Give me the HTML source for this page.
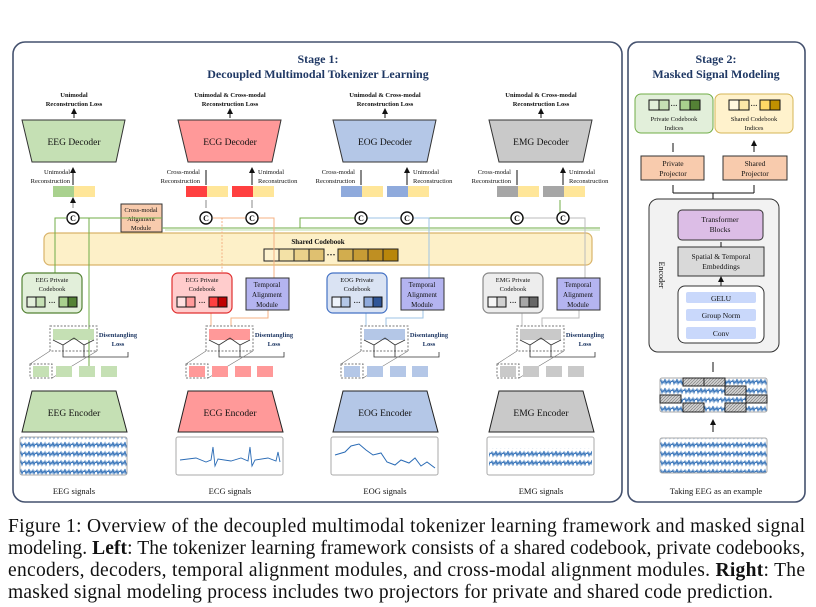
<!DOCTYPE html>
<html><head><meta charset="utf-8"><style>
html,body{margin:0;padding:0;background:#fff}
svg{display:block}
text{font-family:"Liberation Serif",serif;fill:#111}
.b{font-weight:bold}
</style></head><body>
<svg width="816" height="607" viewBox="0 0 816 607" xmlns="http://www.w3.org/2000/svg">
<defs>
<pattern id="eeg" width="12" height="9" patternUnits="userSpaceOnUse">
<path d="M0 4 L1 2 L2 6 L3 3 L4 5 L5 1 L6 6 L7 3 L8 5 L9 2 L10 6 L11 3 L12 4" stroke="#2a6bb5" stroke-width="0.9" fill="none"/>
</pattern>
<pattern id="hatch" width="3" height="3" patternUnits="userSpaceOnUse">
<rect width="3" height="3" fill="#cfcfcf"/><path d="M0 3L3 0" stroke="#777" stroke-width="0.6"/>
</pattern>
<marker id="ar" markerWidth="6" markerHeight="6" refX="3" refY="3" orient="auto"><path d="M0 0L6 3L0 6z" fill="#111"/></marker>
</defs>

<!-- panels -->
<rect x="13" y="42" width="609" height="460" rx="12" fill="#fff" stroke="#44516e" stroke-width="1.6"/>
<rect x="628" y="42" width="177" height="460" rx="10" fill="#fff" stroke="#44516e" stroke-width="1.6"/>

<text x="318" y="63" text-anchor="middle" class="b" font-size="12" style="fill:#1f3864">Stage 1:</text>
<text x="318" y="78" text-anchor="middle" class="b" font-size="12" style="fill:#1f3864">Decoupled Multimodal Tokenizer Learning</text>

<!-- shared codebook -->
<rect x="44" y="233" width="548" height="32" rx="6" fill="#fdf0c8" stroke="#d9b36a" stroke-width="1.2"/>
<text x="318" y="244" text-anchor="middle" class="b" font-size="7">Shared Codebook</text>
<g stroke="#222" stroke-width="1">
<rect x="264" y="249" width="15" height="12" fill="#fdf3d0"/><rect x="279" y="249" width="15" height="12" fill="#f3e1a6"/><rect x="294" y="249" width="15" height="12" fill="#ead18a"/><rect x="309" y="249" width="15" height="12" fill="#dfc070"/>
<rect x="338" y="249" width="15" height="12" fill="#d2ad4e"/><rect x="353" y="249" width="15" height="12" fill="#c79c35"/><rect x="368" y="249" width="15" height="12" fill="#bf8f22"/><rect x="383" y="249" width="15" height="12" fill="#b8860b"/>
</g>
<text x="331" y="258" text-anchor="middle" class="b" font-size="9">···</text>

<!-- cross-modal alignment module -->
<rect x="121" y="204" width="41" height="28" fill="#f8cbad" stroke="#333"/>
<text x="141" y="212" text-anchor="middle" font-size="6.5">Cross-modal</text>
<text x="141" y="221" text-anchor="middle" font-size="6.5">Alignment</text>
<text x="141" y="230" text-anchor="middle" font-size="6.5">Module</text>
<path d="M162 228 L600 228 M162 218 L78 218 M300 228 L300 218 L560 218 L560 200" stroke="#70ad47" stroke-width="1" fill="none"/>
<path d="M165 230 L600 230" stroke="#a9d18e" stroke-width="0.8" fill="none"/>

<g id="colEEG">
<text x="74" y="97" text-anchor="middle" class="b" font-size="6.5">Unimodal</text>
<text x="74" y="106" text-anchor="middle" class="b" font-size="6.5">Reconstruction Loss</text>
<path d="M74 118 V111" stroke="#111" marker-end="url(#ar)"/>
<polygon points="22,120 125,120 116,162 32,162" fill="#c5e0b4" stroke="#333"/>
<text x="74" y="145" text-anchor="middle" font-size="9.5">EEG Decoder</text>
<text x="70" y="174" text-anchor="end" font-size="6.5">Unimodal</text>
<text x="70" y="183" text-anchor="end" font-size="6.5">Reconstruction</text>
<path d="M73 185 V170" stroke="#111" marker-end="url(#ar)"/>
<rect x="53" y="186" width="21" height="11" fill="#a9d18e"/><rect x="74" y="186" width="21" height="11" fill="#ffe699"/>
<path d="M73 208 V200" stroke="#888" marker-end="url(#ar)"/>
<circle cx="73" cy="218" r="6" fill="#fff" stroke="#111" stroke-width="1.4"/><text x="73" y="221" text-anchor="middle" class="b" font-size="8">C</text>
<path d="M55 313 V218 H66 M89 370 V218 H80" stroke="#70ad47" fill="none"/>
<rect x="22" y="273" width="60" height="40" rx="6" fill="#e2efda" stroke="#548235" stroke-width="1.2"/>
<text x="52" y="282" text-anchor="middle" font-size="6.5">EEG Private</text>
<text x="52" y="291" text-anchor="middle" font-size="6.5">Codebook</text>
<g stroke="#111"><rect x="27" y="297" width="9" height="10" fill="#e2efda"/><rect x="36" y="297" width="9" height="10" fill="#c5e0b4"/><rect x="59" y="297" width="9" height="10" fill="#a9d18e"/><rect x="68" y="297" width="9" height="10" fill="#548235"/></g>
<text x="52" y="305" text-anchor="middle" class="b" font-size="7">···</text>
<rect x="50" y="326" width="47" height="25" fill="none" stroke="#777" stroke-dasharray="2,1.5"/>
<rect x="53" y="329" width="41" height="11" fill="#c5e0b4"/>
<path d="M53 340 L63 345 L74 338 L84 345 L94 340 M63 345 V357 H128 V352 M84 345 V357" stroke="#333" fill="none" stroke-width="0.8"/>
<text x="118" y="337" text-anchor="middle" class="b" font-size="6.5" style="fill:#1f3864">Disentangling</text>
<text x="118" y="346" text-anchor="middle" class="b" font-size="6.5" style="fill:#1f3864">Loss</text>
<rect x="30" y="364" width="22" height="14" fill="none" stroke="#777" stroke-dasharray="2,1.5"/>
<path d="M30 364 L50 351 M52 378 L97 351" stroke="#777" stroke-width="0.6"/>
<rect x="33" y="366" width="16" height="11" fill="#c5e0b4"/><rect x="56" y="366" width="16" height="11" fill="#c5e0b4"/><rect x="79" y="366" width="16" height="11" fill="#c5e0b4"/><rect x="101" y="366" width="16" height="11" fill="#c5e0b4"/>
<polygon points="32,391 116,391 127,432 22,432" fill="#c5e0b4" stroke="#222"/>
<text x="74" y="416" text-anchor="middle" font-size="9.5">EEG Encoder</text>
<rect x="20" y="437" width="107" height="38" rx="2" fill="url(#eeg)" stroke="#aaa"/>
<text x="74" y="494" text-anchor="middle" font-size="8.5">EEG signals</text>
</g>

<g transform="translate(156,0)">
<text x="74" y="97" text-anchor="middle" class="b" font-size="6.5">Unimodal &amp; Cross-modal</text>
<text x="74" y="106" text-anchor="middle" class="b" font-size="6.5">Reconstruction Loss</text>
<path d="M74 118 V111" stroke="#111" marker-end="url(#ar)"/>
<polygon points="22,120 125,120 116,162 32,162" fill="#ff9999" stroke="#333"/>
<text x="74" y="145" text-anchor="middle" font-size="9.5">ECG Decoder</text>
<text x="44" y="174" text-anchor="end" font-size="6.5">Cross-modal</text>
<text x="44" y="183" text-anchor="end" font-size="6.5">Reconstruction</text>
<text x="102" y="174" font-size="6.5">Unimodal</text>
<text x="102" y="183" font-size="6.5">Reconstruction</text>
<path d="M50 185 V170 M96 185 V170" stroke="#111" marker-end="url(#ar)"/>
<rect x="30" y="186" width="21" height="11" fill="#ff4040"/><rect x="51" y="186" width="21" height="11" fill="#ffe699"/>
<rect x="76" y="186" width="21" height="11" fill="#ff4040"/><rect x="97" y="186" width="21" height="11" fill="#ffe699"/>
<path d="M50 208 V200 M96 208 V200" stroke="#888"/>
<path d="M57 218 H118 V278 M103 218 H118" stroke="#f4b183" fill="none"/>
<path d="M66 272 V218" stroke="#f4b183" stroke-dasharray="2,1.5" fill="none"/>
<circle cx="50" cy="218" r="6" fill="#fff" stroke="#111" stroke-width="1.4"/><text x="50" y="221" text-anchor="middle" class="b" font-size="8">C</text>
<circle cx="96" cy="218" r="6" fill="#fff" stroke="#111" stroke-width="1.4"/><text x="96" y="221" text-anchor="middle" class="b" font-size="8">C</text>
<path d="M55 313 V326 M75 326 V318 H112 V310" stroke="#f4b183" fill="none"/>
<rect x="16" y="273" width="60" height="40" rx="6" fill="#ffcccc" stroke="#e03030" stroke-width="1.2"/>
<text x="46" y="282" text-anchor="middle" font-size="6.5">ECG Private</text>
<text x="46" y="291" text-anchor="middle" font-size="6.5">Codebook</text>
<g stroke="#111"><rect x="21" y="297" width="9" height="10" fill="#ffe0e0"/><rect x="30" y="297" width="9" height="10" fill="#ff9999"/><rect x="53" y="297" width="9" height="10" fill="#ff4040"/><rect x="62" y="297" width="9" height="10" fill="#c00000"/></g>
<text x="46" y="305" text-anchor="middle" class="b" font-size="7">···</text>
<rect x="90" y="278" width="43" height="32" fill="#b4b4f0" stroke="#333"/>
<text x="111" y="287" text-anchor="middle" font-size="7">Temporal</text>
<text x="111" y="297" text-anchor="middle" font-size="7">Alignment</text>
<text x="111" y="307" text-anchor="middle" font-size="7">Module</text>
<rect x="50" y="326" width="47" height="25" fill="none" stroke="#777" stroke-dasharray="2,1.5"/>
<rect x="53" y="329" width="41" height="11" fill="#ff9999"/>
<path d="M53 340 L63 345 L74 338 L84 345 L94 340 M63 345 V357 H128 V352 M84 345 V357" stroke="#333" fill="none" stroke-width="0.8"/>
<text x="118" y="337" text-anchor="middle" class="b" font-size="6.5" style="fill:#1f3864">Disentangling</text>
<text x="118" y="346" text-anchor="middle" class="b" font-size="6.5" style="fill:#1f3864">Loss</text>
<rect x="30" y="364" width="22" height="14" fill="none" stroke="#777" stroke-dasharray="2,1.5"/>
<path d="M30 364 L50 351 M52 378 L97 351" stroke="#777" stroke-width="0.6"/>
<rect x="33" y="366" width="16" height="11" fill="#ff9999"/><rect x="56" y="366" width="16" height="11" fill="#ff9999"/><rect x="79" y="366" width="16" height="11" fill="#ff9999"/><rect x="101" y="366" width="16" height="11" fill="#ff9999"/>
<polygon points="32,391 116,391 127,432 22,432" fill="#ff9999" stroke="#222"/>
<text x="74" y="416" text-anchor="middle" font-size="9.5">ECG Encoder</text>
<rect x="20" y="437" width="107" height="38" rx="2" fill="#fff" stroke="#aaa"/>
<path d="M24 460 L40 458 L50 462 L55 460 L57 447 L59 466 L62 459 L75 461 L85 458 L92 461 L94 447 L96 466 L99 460 L112 458 L120 461 L122 452 L124 462" stroke="#2a6bb5" fill="none" stroke-width="0.9"/>
<text x="74" y="494" text-anchor="middle" font-size="8.5">ECG signals</text>
</g>

<g transform="translate(311,0)">
<text x="74" y="97" text-anchor="middle" class="b" font-size="6.5">Unimodal &amp; Cross-modal</text>
<text x="74" y="106" text-anchor="middle" class="b" font-size="6.5">Reconstruction Loss</text>
<path d="M74 118 V111" stroke="#111" marker-end="url(#ar)"/>
<polygon points="22,120 125,120 116,162 32,162" fill="#b4c7e7" stroke="#333"/>
<text x="74" y="145" text-anchor="middle" font-size="9.5">EOG Decoder</text>
<text x="44" y="174" text-anchor="end" font-size="6.5">Cross-modal</text>
<text x="44" y="183" text-anchor="end" font-size="6.5">Reconstruction</text>
<text x="102" y="174" font-size="6.5">Unimodal</text>
<text x="102" y="183" font-size="6.5">Reconstruction</text>
<path d="M50 185 V170 M96 185 V170" stroke="#111" marker-end="url(#ar)"/>
<rect x="30" y="186" width="21" height="11" fill="#8faadc"/><rect x="51" y="186" width="21" height="11" fill="#ffe699"/>
<rect x="76" y="186" width="21" height="11" fill="#8faadc"/><rect x="97" y="186" width="21" height="11" fill="#ffe699"/>
<path d="M57 218 H118 V278 M103 218 H118" stroke="#9dc3e6" fill="none"/>
<circle cx="50" cy="218" r="6" fill="#fff" stroke="#111" stroke-width="1.4"/><text x="50" y="221" text-anchor="middle" class="b" font-size="8">C</text>
<circle cx="96" cy="218" r="6" fill="#fff" stroke="#111" stroke-width="1.4"/><text x="96" y="221" text-anchor="middle" class="b" font-size="8">C</text>
<path d="M55 313 V326 M75 326 V318 H112 V310" stroke="#9dc3e6" fill="none"/>
<rect x="16" y="273" width="60" height="40" rx="6" fill="#dae3f3" stroke="#4472c4" stroke-width="1.2"/>
<text x="46" y="282" text-anchor="middle" font-size="6.5">EOG Private</text>
<text x="46" y="291" text-anchor="middle" font-size="6.5">Codebook</text>
<g stroke="#111"><rect x="21" y="297" width="9" height="10" fill="#eef3fb"/><rect x="30" y="297" width="9" height="10" fill="#b4c7e7"/><rect x="53" y="297" width="9" height="10" fill="#8faadc"/><rect x="62" y="297" width="9" height="10" fill="#2f5597"/></g>
<text x="46" y="305" text-anchor="middle" class="b" font-size="7">···</text>
<rect x="90" y="278" width="43" height="32" fill="#b4b4f0" stroke="#333"/>
<text x="111" y="287" text-anchor="middle" font-size="7">Temporal</text>
<text x="111" y="297" text-anchor="middle" font-size="7">Alignment</text>
<text x="111" y="307" text-anchor="middle" font-size="7">Module</text>
<rect x="50" y="326" width="47" height="25" fill="none" stroke="#777" stroke-dasharray="2,1.5"/>
<rect x="53" y="329" width="41" height="11" fill="#b4c7e7"/>
<path d="M53 340 L63 345 L74 338 L84 345 L94 340 M63 345 V357 H128 V352 M84 345 V357" stroke="#333" fill="none" stroke-width="0.8"/>
<text x="118" y="337" text-anchor="middle" class="b" font-size="6.5" style="fill:#1f3864">Disentangling</text>
<text x="118" y="346" text-anchor="middle" class="b" font-size="6.5" style="fill:#1f3864">Loss</text>
<rect x="30" y="364" width="22" height="14" fill="none" stroke="#777" stroke-dasharray="2,1.5"/>
<path d="M30 364 L50 351 M52 378 L97 351" stroke="#777" stroke-width="0.6"/>
<rect x="33" y="366" width="16" height="11" fill="#b4c7e7"/><rect x="56" y="366" width="16" height="11" fill="#b4c7e7"/><rect x="79" y="366" width="16" height="11" fill="#b4c7e7"/><rect x="101" y="366" width="16" height="11" fill="#b4c7e7"/>
<polygon points="32,391 116,391 127,432 22,432" fill="#b4c7e7" stroke="#222"/>
<text x="74" y="416" text-anchor="middle" font-size="9.5">EOG Encoder</text>
<rect x="20" y="437" width="107" height="38" rx="2" fill="#fff" stroke="#aaa"/>
<path d="M24 455 L34 452 L40 446 L48 444 L55 450 L62 455 L70 453 L76 462 L84 465 L90 460 L98 463 L104 458 L110 466 L116 462 L124 468" stroke="#2a6bb5" fill="none" stroke-width="1"/>
<text x="74" y="494" text-anchor="middle" font-size="8.5">EOG signals</text>
</g>

<g transform="translate(467,0)">
<text x="74" y="97" text-anchor="middle" class="b" font-size="6.5">Unimodal &amp; Cross-modal</text>
<text x="74" y="106" text-anchor="middle" class="b" font-size="6.5">Reconstruction Loss</text>
<path d="M74 118 V111" stroke="#111" marker-end="url(#ar)"/>
<polygon points="22,120 125,120 116,162 32,162" fill="#c9c9c9" stroke="#333"/>
<text x="74" y="145" text-anchor="middle" font-size="9.5">EMG Decoder</text>
<text x="44" y="174" text-anchor="end" font-size="6.5">Cross-modal</text>
<text x="44" y="183" text-anchor="end" font-size="6.5">Reconstruction</text>
<text x="102" y="174" font-size="6.5">Unimodal</text>
<text x="102" y="183" font-size="6.5">Reconstruction</text>
<path d="M50 185 V170 M96 185 V170" stroke="#111" marker-end="url(#ar)"/>
<rect x="30" y="186" width="21" height="11" fill="#a6a6a6"/><rect x="51" y="186" width="21" height="11" fill="#ffe699"/>
<rect x="76" y="186" width="21" height="11" fill="#a6a6a6"/><rect x="97" y="186" width="21" height="11" fill="#ffe699"/>
<path d="M57 218 H118 V278 M103 218 H118" stroke="#bbb" fill="none"/>
<circle cx="50" cy="218" r="6" fill="#fff" stroke="#111" stroke-width="1.4"/><text x="50" y="221" text-anchor="middle" class="b" font-size="8">C</text>
<circle cx="96" cy="218" r="6" fill="#fff" stroke="#111" stroke-width="1.4"/><text x="96" y="221" text-anchor="middle" class="b" font-size="8">C</text>
<path d="M55 313 V326 M75 326 V318 H112 V310" stroke="#bbb" fill="none"/>
<rect x="16" y="273" width="60" height="40" rx="6" fill="#ededed" stroke="#888" stroke-width="1.2"/>
<text x="46" y="282" text-anchor="middle" font-size="6.5">EMG Private</text>
<text x="46" y="291" text-anchor="middle" font-size="6.5">Codebook</text>
<g stroke="#111"><rect x="21" y="297" width="9" height="10" fill="#f5f5f5"/><rect x="30" y="297" width="9" height="10" fill="#d0d0d0"/><rect x="53" y="297" width="9" height="10" fill="#a6a6a6"/><rect x="62" y="297" width="9" height="10" fill="#666"/></g>
<text x="46" y="305" text-anchor="middle" class="b" font-size="7">···</text>
<rect x="90" y="278" width="43" height="32" fill="#b4b4f0" stroke="#333"/>
<text x="111" y="287" text-anchor="middle" font-size="7">Temporal</text>
<text x="111" y="297" text-anchor="middle" font-size="7">Alignment</text>
<text x="111" y="307" text-anchor="middle" font-size="7">Module</text>
<rect x="50" y="326" width="47" height="25" fill="none" stroke="#777" stroke-dasharray="2,1.5"/>
<rect x="53" y="329" width="41" height="11" fill="#c9c9c9"/>
<path d="M53 340 L63 345 L74 338 L84 345 L94 340 M63 345 V357 H128 V352 M84 345 V357" stroke="#333" fill="none" stroke-width="0.8"/>
<text x="118" y="337" text-anchor="middle" class="b" font-size="6.5" style="fill:#1f3864">Disentangling</text>
<text x="118" y="346" text-anchor="middle" class="b" font-size="6.5" style="fill:#1f3864">Loss</text>
<rect x="30" y="364" width="22" height="14" fill="none" stroke="#777" stroke-dasharray="2,1.5"/>
<path d="M30 364 L50 351 M52 378 L97 351" stroke="#777" stroke-width="0.6"/>
<rect x="33" y="366" width="16" height="11" fill="#c9c9c9"/><rect x="56" y="366" width="16" height="11" fill="#c9c9c9"/><rect x="79" y="366" width="16" height="11" fill="#c9c9c9"/><rect x="101" y="366" width="16" height="11" fill="#c9c9c9"/>
<polygon points="32,391 116,391 127,432 22,432" fill="#c9c9c9" stroke="#222"/>
<text x="74" y="416" text-anchor="middle" font-size="9.5">EMG Encoder</text>
<rect x="20" y="437" width="107" height="38" rx="2" fill="#fff" stroke="#aaa"/>
<rect x="22" y="448" width="103" height="18" fill="url(#eeg)"/>
<text x="74" y="494" text-anchor="middle" font-size="8.5">EMG signals</text>
</g>

<!-- Stage 2 -->
<text x="716" y="63" text-anchor="middle" class="b" font-size="12" style="fill:#1f3864">Stage 2:</text>
<text x="716" y="78" text-anchor="middle" class="b" font-size="12" style="fill:#1f3864">Masked Signal Modeling</text>
<rect x="635" y="94" width="78" height="39" rx="6" fill="#e2efda" stroke="#70ad47"/>
<g stroke="#111"><rect x="649" y="100" width="10" height="10" fill="#e2efda"/><rect x="659" y="100" width="10" height="10" fill="#c5e0b4"/><rect x="680" y="100" width="10" height="10" fill="#a9d18e"/><rect x="690" y="100" width="10" height="10" fill="#548235"/></g>
<text x="674" y="108" text-anchor="middle" class="b" font-size="7">···</text>
<text x="674" y="121" text-anchor="middle" font-size="6.5">Private Codebook</text>
<text x="674" y="130" text-anchor="middle" font-size="6.5">Indices</text>
<rect x="715" y="94" width="78" height="39" rx="6" fill="#fff2cc" stroke="#d6b656"/>
<g stroke="#111"><rect x="729" y="100" width="10" height="10" fill="#fff8e0"/><rect x="739" y="100" width="10" height="10" fill="#fde9a8"/><rect x="760" y="100" width="10" height="10" fill="#ffd966"/><rect x="770" y="100" width="10" height="10" fill="#bf9000"/></g>
<text x="754" y="108" text-anchor="middle" class="b" font-size="7">···</text>
<text x="754" y="121" text-anchor="middle" font-size="6.5">Shared Codebook</text>
<text x="754" y="130" text-anchor="middle" font-size="6.5">Indices</text>
<path d="M673 152 V143 M754 152 V143" stroke="#111" marker-end="url(#ar)"/>
<rect x="641" y="156" width="63" height="24" fill="#f8cbad" stroke="#333"/>
<text x="673" y="166" text-anchor="middle" font-size="7.5">Private</text>
<text x="673" y="176" text-anchor="middle" font-size="7.5">Projector</text>
<rect x="723" y="156" width="64" height="24" fill="#f8cbad" stroke="#333"/>
<text x="755" y="166" text-anchor="middle" font-size="7.5">Shared</text>
<text x="755" y="176" text-anchor="middle" font-size="7.5">Projector</text>
<path d="M713 199 V193 M673 193 H754 M673 193 V185 M754 193 V185" stroke="#111" fill="none"/>
<rect x="649" y="199" width="130" height="153" rx="9" fill="#f2f2f2" stroke="#333"/>
<text transform="translate(659,275) rotate(90)" text-anchor="middle" font-size="8">Encoder</text>
<rect x="678" y="210" width="85" height="30" rx="4" fill="#dcbde6" stroke="#333"/>
<text x="720" y="222" text-anchor="middle" font-size="7.5">Transformer</text>
<text x="720" y="232" text-anchor="middle" font-size="7.5">Blocks</text>
<rect x="678" y="247" width="86" height="29" fill="#d9d9d9" stroke="#333"/>
<text x="721" y="259" text-anchor="middle" font-size="7.5">Spatial &amp; Temporal</text>
<text x="721" y="269" text-anchor="middle" font-size="7.5">Embeddings</text>
<path d="M721 247 V242 M721 286 V279" stroke="#111" marker-end="url(#ar)"/>
<rect x="678" y="286" width="86" height="57" rx="7" fill="#fff" stroke="#333"/>
<rect x="686" y="292" width="70" height="11" rx="2" fill="#c9d8fb"/><text x="721" y="301" text-anchor="middle" font-size="7.5">GELU</text>
<rect x="686" y="309" width="70" height="12" rx="2" fill="#c9d8fb"/><text x="721" y="318" text-anchor="middle" font-size="7.5">Group Norm</text>
<rect x="686" y="327" width="70" height="12" rx="2" fill="#c9d8fb"/><text x="721" y="336" text-anchor="middle" font-size="7.5">Conv</text>
<path d="M713 372 V362 M713 432 V422" stroke="#111" marker-end="url(#ar)"/>
<rect x="660" y="378" width="107" height="34" rx="2" fill="url(#eeg)" stroke="#aaa"/>
<g stroke="#222" fill="url(#hatch)">
<rect x="683" y="378" width="21" height="8"/><rect x="704" y="378" width="21" height="8"/>
<rect x="725" y="386" width="21" height="9"/>
<rect x="660" y="395" width="21" height="8"/><rect x="746" y="395" width="21" height="8"/>
<rect x="683" y="403" width="21" height="9"/><rect x="725" y="403" width="21" height="9"/>
</g>
<rect x="660" y="438" width="107" height="35" rx="2" fill="url(#eeg)" stroke="#aaa"/>
<text x="716" y="494" text-anchor="middle" font-size="8.5">Taking EEG as an example</text>

<!-- caption -->
<g font-size="19.5">
<text x="8" y="532" textLength="797" lengthAdjust="spacing">Figure 1:  Overview of the decoupled multimodal tokenizer learning framework and masked signal</text>
<text x="8" y="554" textLength="797" lengthAdjust="spacing">modeling. <tspan class="b">Left</tspan>: The tokenizer learning framework consists of a shared codebook, private codebooks,</text>
<text x="8" y="576" textLength="797" lengthAdjust="spacing">encoders, decoders, temporal alignment modules, and cross-modal alignment modules. <tspan class="b">Right</tspan>: The</text>
<text x="8" y="598" textLength="765" lengthAdjust="spacing">masked signal modeling process includes two projectors for private and shared code prediction.</text>
</g>
</svg>
</body></html>
